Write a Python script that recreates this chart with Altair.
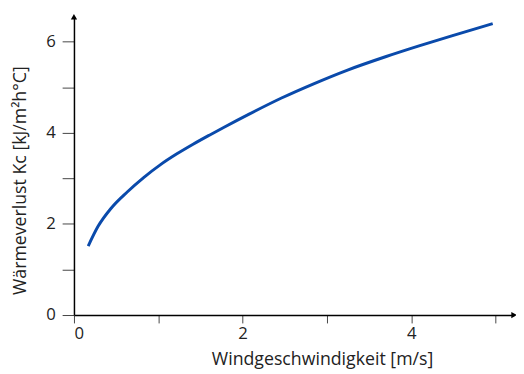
import altair as alt
import pandas as pd

# Curve
wind = [0.169, 0.286, 0.441, 0.635, 0.830, 1.023, 1.221, 1.413, 1.606, 1.781,
        2.072, 2.462, 2.850, 3.238, 3.704, 4.093, 4.481, 4.967]
loss = [1.515, 1.948, 2.346, 2.707, 3.023, 3.297, 3.539, 3.750, 3.949, 4.124,
        4.406, 4.765, 5.083, 5.374, 5.677, 5.910, 6.131, 6.398]

x_ticks = [0, 1, 2, 3, 4, 5]
y_ticks = [0, 1, 2, 3, 4, 5, 6]
x_max = 5.22
y_max = 6.55

FONT = "Open Sans"

df = pd.DataFrame({"v": wind, "k": loss})

xs = alt.Scale(domain=[0, x_max], nice=False, zero=True)
ys = alt.Scale(domain=[0, y_max], nice=False, zero=True)

line = alt.Chart(df).mark_line(color="#0a4aab", strokeWidth=3, interpolate="monotone").encode(
    x=alt.X("v:Q", scale=xs, axis=alt.Axis(
        values=x_ticks, title="Windgeschwindigkeit [m/s]", format="d",
        labelExpr="datum.value % 2 == 0 ? datum.label : ''",
        tickSize=8, tickColor="#444", domainColor="black", domainWidth=1.5,
        labelFont=FONT, labelFontSize=17, labelColor="#222", labelPadding=3,
        titleFont=FONT, titleFontSize=18, titleFontWeight="normal", titleColor="#222",
        titleX=252, titlePadding=9, grid=False)),
    y=alt.Y("k:Q", scale=ys, axis=alt.Axis(
        values=y_ticks, title="Wärmeverlust Kc [kJ/m²h°C]", format="d",
        labelExpr="datum.value % 2 == 0 ? datum.label : ''",
        tickSize=12, tickColor="#444", domainColor="black", domainWidth=1.5,
        labelFont=FONT, labelFontSize=17, labelColor="#222", labelPadding=7,
        titleFont=FONT, titleFontSize=18, titleFontWeight="normal", titleColor="#222",
        titleY=166, titlePadding=16, grid=False)),
)

arrows_df = pd.DataFrame({"v": [0, x_max], "k": [y_max, 0], "shape": ["triangle-up", "triangle-right"]})
arrows = alt.Chart(arrows_df).mark_point(filled=True, color="black", size=40, opacity=1).encode(
    x=alt.X("v:Q", scale=xs),
    y=alt.Y("k:Q", scale=ys),
    shape=alt.Shape("shape:N", scale=None, legend=None),
)

chart = (line + arrows).properties(
    width=447, height=303,
    autosize=alt.AutoSizeParams(type="none"),
    padding={"left": 67, "top": 6, "right": 2, "bottom": 56},
).configure_view(stroke=None)

chart.save("out.html", embed_options={"renderer": "svg", "actions": False})
